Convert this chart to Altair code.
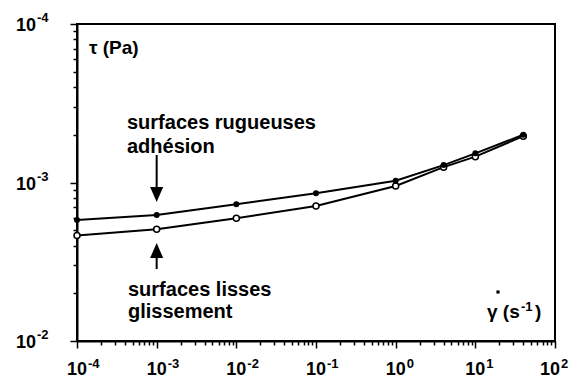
import altair as alt
import pandas as pd

# ---- data ----
shear_rate = [1e-4, 1e-3, 1e-2, 1e-1, 1.0, 4.0, 10.0, 40.0]
tau_rough = [580, 624, 729, 855, 1026, 1288, 1527, 2000]     # surfaces rugueuses (filled)
tau_smooth = [463, 507, 594, 711, 950, 1250, 1455, 1960]     # surfaces lisses (open)

x_major = [1e-4, 1e-3, 1e-2, 1e-1, 1.0, 10.0, 100.0]
x_exp = ["-4", "-3", "-2", "-1", "0", "1", "2"]
y_major = [1e2, 1e3, 1e4]
y_exp = ["-2", "-3", "-4"]

x_minor = [k * 10.0 ** n for n in range(-4, 2) for k in range(2, 10)]
y_minor = [k * 10.0 ** n for n in range(2, 4) for k in range(2, 10)]

W, H = 478, 317
FONT = "Liberation Sans"

major_test = "abs(log(datum.value)/LN10 - round(log(datum.value)/LN10)) < 0.000001"
tick_size = {"condition": {"test": major_test, "value": 7}, "value": 4}

xs = alt.Scale(type="log", domain=[1e-4, 1e2], nice=False)
ys = alt.Scale(type="log", domain=[1e2, 1e4], nice=False)

xaxis = alt.Axis(values=x_major + x_minor, labels=False, title=None, grid=False,
                 domainColor="black", domainWidth=2, tickColor="black",
                 tickWidth=1.5, tickSize=tick_size)
yaxis = alt.Axis(values=y_major + y_minor, labels=False, title=None, grid=False,
                 domainColor="black", domainWidth=2, tickColor="black",
                 tickWidth=1.5, tickSize=tick_size)


def X(field="x"):
    return alt.X(f"{field}:Q", scale=xs, axis=xaxis)


def Y(field="y"):
    return alt.Y(f"{field}:Q", scale=ys, axis=yaxis)


df = pd.DataFrame({"x": shear_rate, "rough": tau_rough, "smooth": tau_smooth})
one = pd.DataFrame({"x": [1e-3]})
xl = pd.DataFrame({"x": x_major, "e": x_exp})
yl = pd.DataFrame({"y": y_major, "e": y_exp})

txt = dict(font=FONT, fontWeight="bold", color="black")

line_s = alt.Chart(df).mark_line(color="black", strokeWidth=2).encode(x=X(), y=Y("smooth"))
line_r = alt.Chart(df).mark_line(color="black", strokeWidth=2).encode(x=X(), y=Y("rough"))
pts_s = alt.Chart(df).mark_point(shape="circle", size=36, fill="white", fillOpacity=1,
                                 stroke="black", strokeWidth=1.5, opacity=1).encode(x=X(), y=Y("smooth"))
pts_r = alt.Chart(df).mark_point(shape="circle", size=36, filled=True, color="black",
                                 opacity=1).encode(x=X(), y=Y("rough"))

# axis tick labels (10 with superscript exponent)
last = "datum.x >= 100"
xl_base = alt.Chart(xl).transform_filter(f"!({last})").mark_text(
    text="10", fontSize=18, align="center", baseline="middle", **txt).encode(
    x=X(), y=alt.value(H + 29))
xl_exp = alt.Chart(xl).transform_filter(f"!({last})").mark_text(
    fontSize=13, align="left", baseline="middle", dx=11, **txt).encode(
    x=X(), y=alt.value(H + 23), text="e:N")
xl_base_last = alt.Chart(xl).transform_filter(last).mark_text(
    text="10", fontSize=18, align="center", baseline="middle", dx=-5, **txt).encode(
    x=X(), y=alt.value(H + 29))
xl_exp_last = alt.Chart(xl).transform_filter(last).mark_text(
    fontSize=13, align="left", baseline="middle", dx=6, **txt).encode(
    x=X(), y=alt.value(H + 23), text="e:N")
yl_base = alt.Chart(yl).mark_text(text="10", fontSize=18, align="right", baseline="middle", dy=2, **txt).encode(
    x=alt.value(-41), y=Y())
yl_exp = alt.Chart(yl).mark_text(fontSize=13, align="left", baseline="middle", dy=-6, **txt).encode(
    x=alt.value(-40), y=Y(), text="e:N")

# axis titles
tau_title = alt.Chart(one).mark_text(text="τ (Pa)", fontSize=19, align="left", baseline="middle", **txt).encode(
    x=alt.value(12), y=alt.value(24))
g_main = alt.Chart(one).mark_text(text="γ (s", fontSize=19, align="left", baseline="alphabetic", **txt).encode(
    x=alt.value(410), y=alt.value(294))
g_exp = alt.Chart(one).mark_text(text="-1", fontSize=13, align="left", baseline="alphabetic", **txt).encode(
    x=alt.value(444), y=alt.value(287))
g_close = alt.Chart(one).mark_text(text=")", fontSize=19, align="left", baseline="alphabetic", **txt).encode(
    x=alt.value(458), y=alt.value(294))
g_dot = alt.Chart(one).mark_square(size=10, color="black", opacity=1).encode(
    x=alt.value(421), y=alt.value(268))

# annotations
ann_top = alt.Chart(one).mark_text(text=["surfaces rugueuses", "adhésion"], fontSize=20, lineHeight=24,
                                   align="left", baseline="alphabetic", **txt).encode(
    x=alt.value(50), y=alt.value(105))
ann_bot = alt.Chart(one).mark_text(text=["surfaces lisses", "glissement"], fontSize=20, lineHeight=22,
                                   align="left", baseline="alphabetic", **txt).encode(
    x=alt.value(51), y=alt.value(272))

arrow_dn_shaft = alt.Chart(one).mark_rule(color="black", strokeWidth=2).encode(
    x=X(), y=alt.value(131), y2=alt.value(166))
arrow_dn_head = alt.Chart(one).mark_point(shape="M-0.87,-1L0.87,-1L0,1Z", size=225, filled=True,
                                          color="black", opacity=1).encode(x=X(), y=alt.value(170.5))
arrow_up_shaft = alt.Chart(one).mark_rule(color="black", strokeWidth=2).encode(
    x=X(), y=alt.value(230), y2=alt.value(245))
arrow_up_head = alt.Chart(one).mark_point(shape="M-0.87,1L0.87,1L0,-1Z", size=225, filled=True,
                                          color="black", opacity=1).encode(x=X(), y=alt.value(226.5))

chart = alt.layer(
    line_s, line_r, pts_s, pts_r,
    xl_base, xl_exp, xl_base_last, xl_exp_last, yl_base, yl_exp,
    tau_title, g_main, g_exp, g_close, g_dot,
    ann_top, ann_bot,
    arrow_dn_shaft, arrow_dn_head, arrow_up_shaft, arrow_up_head,
).properties(
    width=W, height=H,
    autosize=alt.AutoSizeParams(type="none"),
    padding={"left": 69, "top": 16, "right": 15, "bottom": 41},
    background="white",
).configure_view(stroke="black", strokeWidth=2)

chart.save("out.html", embed_options={"renderer": "svg", "actions": False})
